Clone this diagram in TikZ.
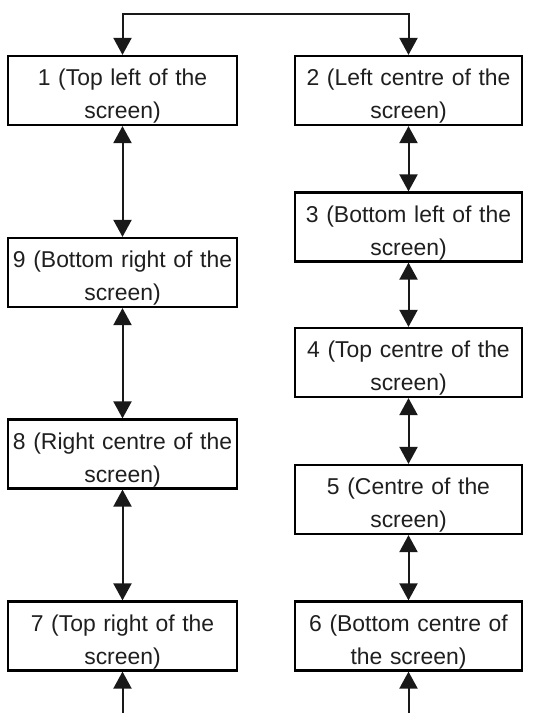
\documentclass[tikz,border=0pt]{standalone}
\usepackage{fontspec}
\setmainfont{Liberation Sans}
\usetikzlibrary{arrows.meta}
\newcommand{\tstrut}{\rule{0pt}{28bp}}
\tikzset{
  box/.style={draw=black, line width=2.2bp, fill=white, inner sep=0pt,
    minimum height=69bp, align=center,
    font=\fontsize{23}{33}\selectfont, text=black!88},
  lbox/.style={box, minimum width=229bp, text width=227bp},
  rbox/.style={box, minimum width=227bp, text width=225bp},
  conn/.style={line width=2bp, draw=black!90,
    {Triangle[length=17bp,width=18bp]}-{Triangle[length=17bp,width=18bp]}},
  conn1/.style={line width=2bp, draw=black!90, -{Triangle[length=17bp,width=18bp]}}
}
\begin{document}
\begin{tikzpicture}[x=1bp,y=-1bp]
\useasboundingbox (0,0) rectangle (542,713);
\node[lbox] (b1) at (122.5,90.5) {\tstrut 1 (Top left of the\\screen)};
\node[rbox] (b2) at (408.5,90.5) {\tstrut 2 (Left centre of the\\screen)};
\node[rbox] (b3) at (408.5,227) {\tstrut 3 (Bottom left of the\\screen)};
\node[lbox] (b9) at (122.5,272.5) {\tstrut 9 (Bottom right of the\\screen)};
\node[rbox] (b4) at (408.5,362.5) {\tstrut 4 (Top centre of the\\screen)};
\node[lbox] (b8) at (122.5,454) {\tstrut 8 (Right centre of the\\screen)};
\node[rbox] (b5) at (408.5,499.5) {\tstrut 5 (Centre of the\\screen)};
\node[lbox] (b7) at (122.5,636) {\tstrut 7 (Top right of the\\screen)};
\node[rbox] (b6) at (408.5,636) {\tstrut 6 (Bottom centre of\\the screen)};
\coordinate (tl) at (122.5,14);
\coordinate (tr) at (408.5,14);
\coordinate (bl) at (122.5,713);
\coordinate (br) at (408.5,713);
\draw[conn] (b1.north) -- (tl) -- (tr) -- (b2.north);
\draw[conn] (b1.south) -- (b9.north);
\draw[conn] (b9.south) -- (b8.north);
\draw[conn] (b8.south) -- (b7.north);
\draw[conn] (b2.south) -- (b3.north);
\draw[conn] (b3.south) -- (b4.north);
\draw[conn] (b4.south) -- (b5.north);
\draw[conn] (b5.south) -- (b6.north);
\draw[conn1] (bl) -- (b7.south);
\draw[conn1] (br) -- (b6.south);
\end{tikzpicture}
\end{document}
